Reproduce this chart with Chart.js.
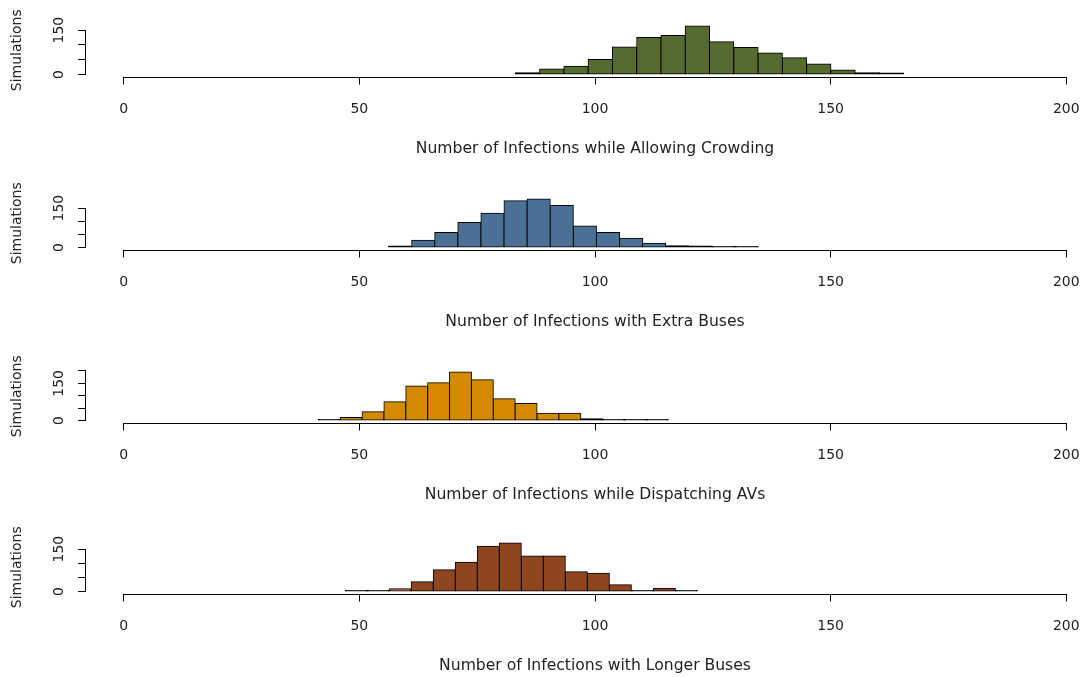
<!DOCTYPE html>
<html><head><meta charset="utf-8">
<script src="https://cdn.jsdelivr.net/npm/chart.js@4"></script>
<style>
html,body{margin:0;padding:0;background:#fff;width:1084px;height:677px;overflow:hidden}
.panel{position:absolute;left:0;width:1104px;height:173px}
</style></head><body>
<div class="panel" style="top:0px"><canvas id="c0" width="1104" height="173"></canvas></div>
<div class="panel" style="top:173px"><canvas id="c1" width="1104" height="173"></canvas></div>
<div class="panel" style="top:346px"><canvas id="c2" width="1104" height="173"></canvas></div>
<div class="panel" style="top:517px"><canvas id="c3" width="1104" height="173"></canvas></div>
<script>
// ---- data ----
const xTickValues = [0, 50, 100, 150, 200];
const yTitle = 'Simulations';

const crowdingTitle = 'Number of Infections while Allowing Crowding';
const crowdingBinStart = 83.1, crowdingBinWidth = 5.15;
const crowdingCounts = [6, 19, 28, 51, 93, 125, 132, 164, 111, 91, 73, 57, 36, 15, 6, 5];
const crowdingYTicks = [0, 50, 100, 150];
const crowdingYLabels = ['0', '', '', '150'];

const extraTitle = 'Number of Infections with Extra Buses';
const extraBinStart = 56.2, extraBinWidth = 4.9;
const extraCounts = [6, 28, 57, 95, 131, 178, 185, 160, 82, 57, 35, 16, 7, 6, 3, 3];
const extraYTicks = [0, 50, 100, 150];
const extraYLabels = ['0', '', '', '150'];

const avTitle = 'Number of Infections while Dispatching AVs';
const avBinStart = 41.3, avBinWidth = 4.64;
const avCounts = [3, 12, 36, 76, 139, 152, 196, 165, 88, 69, 29, 29, 7, 3, 2, 2];
const avYTicks = [0, 50, 100, 150, 200];
const avYLabels = ['0', '', '', '150', ''];

const longerTitle = 'Number of Infections with Longer Buses';
const longerBinStart = 47.0, longerBinWidth = 4.67;
const longerCounts = [2, 4, 10, 35, 77, 104, 160, 172, 126, 126, 70, 65, 24, 4, 12, 4];
const longerYTicks = [0, 50, 100, 150];
const longerYLabels = ['0', '', '', '150'];

const panelColors = ['#556B2F', '#4A7096', '#D48A00', '#8E4520'];

// ---- chart construction ----
const FONT = 'DejaVu Sans';
const TEXT = '#222';

const rAxisLines = {
  id: 'rAxisLines',
  afterDraw(chart) {
    const {ctx} = chart;
    const x = chart.scales.x, y = chart.scales.y;
    const yt = chart.options.plugins.rAxisLines.yTicks;
    ctx.save();
    ctx.strokeStyle = '#000';
    ctx.lineWidth = 1;
    ctx.beginPath();
    const xb = Math.round(x.top) + 0.5;
    ctx.moveTo(x.getPixelForValue(xTickValues[0]), xb);
    ctx.lineTo(x.getPixelForValue(xTickValues[xTickValues.length - 1]), xb);
    const yl = Math.round(y.right) - 0.5;
    ctx.moveTo(yl, y.getPixelForValue(yt[0]));
    ctx.lineTo(yl, y.getPixelForValue(yt[yt.length - 1]));
    ctx.stroke();
    ctx.restore();
  }
};

function makePanel(id, title, binStart, binWidth, counts, yTicks, yLabels, color) {
  const pts = counts.map((c, i) => ({x: binStart + (i + 0.5) * binWidth, y: c}));
  const maxC = Math.max(...counts);
  new Chart(document.getElementById(id), {
    type: 'bar',
    data: {datasets: [{
      data: pts,
      // very low bins look solid black in the R device (outline thicker than fill)
      backgroundColor: c => {
        const ys = c.chart.scales.y;
        if (!ys || !c.raw) return color;
        return (ys.getPixelForValue(0) - ys.getPixelForValue(c.raw.y)) < 2.6 ? '#000' : color;
      },
      borderColor: '#000',
      borderWidth: 1,
      borderSkipped: false,
      inflateAmount: 0.5,
      minBarLength: 1,
      barPercentage: 1,
      categoryPercentage: 1
    }]},
    options: {
      responsive: false,
      animation: false,
      devicePixelRatio: 1,
      layout: {padding: {top: 24, left: 0, right: 0, bottom: 0}},
      plugins: {legend: {display: false}, tooltip: {enabled: false}, rAxisLines: {yTicks}},
      scales: {
        x: {
          type: 'linear', min: -8, max: 208, offset: false,
          afterBuildTicks: s => { s.ticks = xTickValues.map(v => ({value: v})); },
          afterFit: s => { s.height = 96.5; s.paddingLeft = 0; s.paddingRight = 0; },
          border: {display: false},
          grid: {display: true, offset: false, drawOnChartArea: false, drawTicks: true, tickLength: 8, color: '#000', lineWidth: 1},
          ticks: {autoSkip: false, maxRotation: 0, padding: 16.5, color: TEXT, font: {family: FONT, size: 14}},
          title: {display: true, text: title, color: TEXT, font: {family: FONT, size: 15.6}, padding: {top: 0, bottom: 15.2}}
        },
        y: {
          type: 'linear', min: -0.04 * maxC, max: 1.04 * maxC,
          afterBuildTicks: s => { s.ticks = yTicks.map(v => ({value: v})); },
          afterFit: s => { s.width = 86; },
          border: {display: false},
          grid: {display: true, drawOnChartArea: false, drawTicks: true, tickLength: 8, color: '#000', lineWidth: 1},
          ticks: {autoSkip: false, minRotation: 90, maxRotation: 90, crossAlign: 'center', padding: 5,
                  color: TEXT, font: {family: FONT, size: 14},
                  callback: (v, i) => yLabels[i]},
          title: {display: true, text: yTitle, color: TEXT, font: {family: FONT, size: 14}, padding: {top: 8.5, bottom: 0}}
        }
      }
    },
    plugins: [rAxisLines]
  });
}

makePanel('c0', crowdingTitle, crowdingBinStart, crowdingBinWidth, crowdingCounts, crowdingYTicks, crowdingYLabels, panelColors[0]);
makePanel('c1', extraTitle, extraBinStart, extraBinWidth, extraCounts, extraYTicks, extraYLabels, panelColors[1]);
makePanel('c2', avTitle, avBinStart, avBinWidth, avCounts, avYTicks, avYLabels, panelColors[2]);
makePanel('c3', longerTitle, longerBinStart, longerBinWidth, longerCounts, longerYTicks, longerYLabels, panelColors[3]);
</script>
</body></html>
